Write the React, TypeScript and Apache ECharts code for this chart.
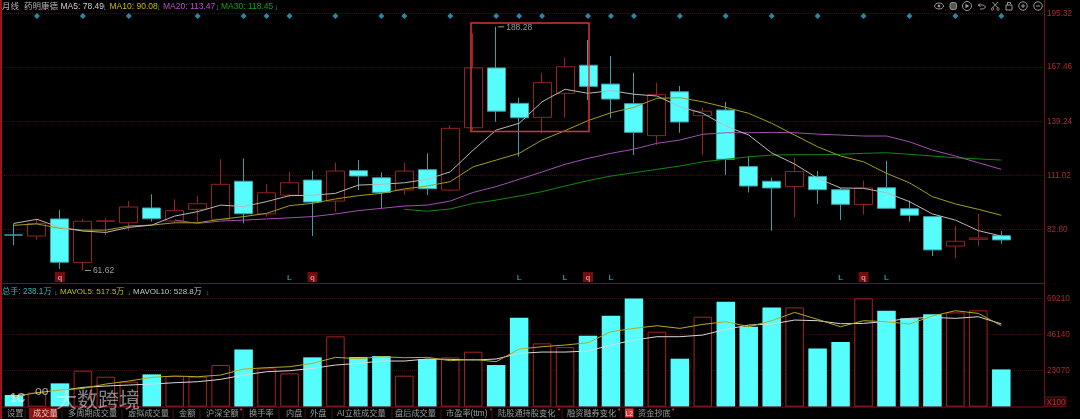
import React, { useEffect, useRef } from "react";
import * as echarts from "echarts";

// [open, close, low, high]
const candles: number[][] = [
  [80.1, 80.0, 74.7, 86.1], [79.5, 86.1, 77.5, 88.2], [88.4, 65.9, 62.4, 93.0], [65.7, 87.2, 61.62, 88.5],
  [87.2, 87.4, 80.1, 89.0], [86.4, 94.6, 82.3, 97.7], [94.1, 88.5, 87.0, 101.2], [87.3, 92.7, 86.1, 98.6],
  [93.4, 96.3, 86.4, 100.3], [88.2, 106.4, 87.8, 119.4], [108.0, 91.1, 86.1, 119.9], [91.0, 102.0, 89.6, 106.6],
  [100.8, 107.2, 99.6, 112.8], [108.6, 97.2, 79.5, 113.5], [97.7, 113.3, 92.2, 117.6], [113.5, 110.7, 103.4, 119.0],
  [109.8, 102.2, 93.9, 112.6], [103.4, 113.3, 100.8, 117.6], [114.0, 104.1, 100.8, 122.5], [103.4, 135.5, 103.0, 137.2],
  [135.8, 166.9, 134.6, 184.9], [166.9, 144.4, 138.9, 188.28], [148.5, 141.0, 120.8, 151.4], [141.2, 159.2, 132.9, 164.4],
  [153.7, 167.5, 141.0, 172.4], [168.3, 157.3, 150.2, 181.4], [158.5, 150.7, 140.7, 173.1], [148.3, 133.4, 121.6, 164.4],
  [131.7, 153.0, 126.8, 159.2], [154.5, 138.8, 133.2, 157.5], [142.1, 144.4, 121.6, 146.4], [145.0, 119.4, 111.2, 149.2],
  [115.6, 105.5, 102.2, 120.8], [108.0, 104.5, 82.3, 109.8], [105.2, 113.0, 89.3, 120.4], [110.4, 103.6, 96.2, 113.3],
  [103.6, 96.0, 87.8, 104.5], [95.8, 104.5, 90.6, 108.3], [104.6, 93.9, 93.6, 118.7], [93.7, 90.3, 87.0, 97.9],
  [89.6, 72.3, 69.1, 89.9], [74.3, 76.8, 67.9, 84.7], [77.8, 78.5, 74.3, 91.0], [79.7, 77.5, 75.5, 82.1],
];
const ma5 = [86.1, 88.2, 84.0, 82.1, 81.4, 84.0, 85.2, 89.9, 92.2, 95.6, 94.8, 97.4, 100.5, 100.7, 101.7, 106.0, 106.4, 107.2, 109.0, 112.9, 124.2, 134.6, 138.1, 149.3, 155.8, 153.7, 155.1, 153.2, 152.3, 146.7, 143.3, 136.7, 132.0, 122.7, 116.9, 109.5, 104.5, 104.3, 102.0, 97.4, 91.0, 87.8, 82.3, 79.5];
const ma10 = [85.1, 85.8, 83.5, 82.6, 82.6, 84.7, 85.2, 86.4, 86.4, 88.2, 89.6, 91.3, 95.3, 96.5, 98.8, 100.5, 101.7, 104.0, 105.5, 107.8, 115.5, 119.0, 122.5, 129.4, 134.3, 139.5, 143.6, 146.4, 151.1, 151.4, 149.3, 146.4, 143.3, 138.1, 132.0, 125.9, 121.1, 118.1, 112.1, 107.2, 100.0, 96.2, 93.4, 90.3];
const ma20Start = 7;
const ma20 = [87.8, 86.1, 87.3, 87.8, 88.4, 89.0, 89.6, 91.0, 92.7, 93.9, 95.1, 95.6, 97.7, 102.2, 105.2, 109.0, 112.8, 116.8, 119.9, 122.5, 124.7, 127.7, 129.4, 132.4, 133.2, 133.2, 133.4, 133.2, 132.5, 132.0, 131.5, 131.5, 128.5, 124.2, 121.1, 117.6, 114.2];
const ma30Start = 17;
const ma30 = [93.4, 92.4, 93.6, 96.5, 98.2, 100.3, 102.6, 105.5, 108.3, 110.7, 112.4, 114.2, 115.9, 118.1, 119.4, 120.7, 121.6, 121.8, 121.8, 122.0, 122.5, 122.8, 122.0, 121.1, 120.2, 119.6, 119.0];

const volumes = [7470, 9000, 14900, 23000, 19150, 16000, 20640, 19580, 19150, 26600, 36600, 24470, 21280, 31500, 44900, 31700, 32350, 19800, 30430, 31500, 35100, 26600, 56800, 40430, 38100, 45300, 58100, 69160, 47900, 30640, 57460, 67000, 51070, 63400, 63400, 37240, 41300, 69160, 61300, 56400, 58950, 60200, 61500, 23810];
const mavol5 = [6400, 8940, 10640, 11700, 14470, 16390, 18730, 19580, 19150, 20220, 24050, 24900, 25540, 27660, 31490, 30640, 31920, 31280, 31490, 29370, 30220, 28730, 36810, 38300, 39370, 40860, 47880, 50000, 51710, 50000, 52560, 54260, 51070, 54900, 60220, 55750, 51070, 54900, 54260, 52770, 57880, 61290, 59580, 51750];
const mavol10Start = 2;
const mavol10 = [10200, 12340, 13190, 13830, 14470, 15320, 15960, 17450, 20220, 22340, 22980, 24470, 26600, 27660, 29160, 29160, 30430, 30220, 29800, 30430, 34040, 34890, 34890, 35530, 39360, 42550, 44690, 44690, 45750, 49360, 52130, 52770, 55320, 54900, 52980, 53200, 54470, 56400, 57020, 56400, 57450, 52880];

const priceTicks = [82.8, 111.02, 139.24, 167.46, 195.32];
const volumeTicks = [23070, 46140, 69210];
const signalDiamonds = [1, 3, 5, 8, 10, 11, 12, 14, 16, 17, 19, 21, 22, 23, 25, 26, 27, 29, 31, 33, 35, 37, 39, 41, 43];
const signalL = [12, 22, 24, 26, 36, 38];
const signalQ = [2, 13, 25, 37];
const tabLabels = ["设置", "成交量", "多周期成交量", "虚拟成交量", "金额", "沪深全额", "换手率", "内盘", "外盘", "AI立桩成交量", "盘后成交量", "市盈率(ttm)", "陆股通持股变化", "融资融券变化", "资金抄底"];
const tabStarts = [7, 33, 68, 128, 179, 206, 249, 286, 310, 337, 395, 446, 498, 567, 638];
const tabDots = [241, 491, 559, 619, 673];
const tabSeps = [25, 62, 122, 173, 200, 243, 279, 305, 332, 392, 441, 492, 562, 621];

const LAT = '"Liberation Sans","Noto Sans CJK SC",sans-serif';
const UP = "#962222";
const CYAN = "#55FDFD";
const WICK = "#3f9fa6";
const DOT = "#420b0b";
const Z = 100;

const xMin = -0.5226;
const xMax = 44.86;

const txt = (text: string, x: number, y: number, fill: string, size = 8.5, extra: any = {}) => ({
  type: "text", z: Z, silent: true,
  style: { text, x, y, fill, font: `${size}px ${LAT}`, verticalAlign: "middle", ...extra },
});
const line = (x1: number, y1: number, x2: number, y2: number, stroke: string, lineWidth = 1) => ({
  type: "line", z: Z, silent: true, shape: { x1, y1, x2, y2 }, style: { stroke, lineWidth },
});
const circ = (cx: number, cy: number, r: number, stroke = "#9a9a9a") => ({
  type: "circle", z: Z, silent: true, shape: { cx, cy, r }, style: { stroke, fill: "none", lineWidth: 1 },
});

function chrome(): any[] {
  const arrow = "#2aa6a6";
  const icon = "#9a9a9a";
  return [
    line(1, 0, 1, 419, "#9a1616", 2),
    line(1044.5, 0, 1044.5, 407, "#6e1414"),
    line(2, 283.5, 1044, 283.5, "#6e1414"),
    line(2, 407, 1044, 407, "#8a1616"),
    { type: "rect", z: Z, silent: true, shape: { x: 471, y: 23, width: 118, height: 108.5 }, style: { stroke: "#d83434", fill: "none", lineWidth: 1.5 } },

    txt("月线", 2, 6, "#b0b0b0", 8.5),
    txt("药明康德", 24, 6, "#b0b0b0", 8.5),
    txt("MA5: 78.49", 60.5, 6, "#cfcfcf"),
    txt("↓", 102.5, 6.5, arrow),
    txt("MA10: 90.08", 109.5, 6, "#c6bc12"),
    txt("↓", 156.5, 6.5, arrow),
    txt("MA20: 113.47", 163, 6, "#b653c6"),
    txt("↓", 215, 6.5, arrow),
    txt("MA30: 118.45", 221, 6, "#0aa50a"),
    txt("↓", 274, 6.5, arrow),

    txt("总手: 238.1万", 2, 291.5, "#2fb8b8", 8.2),
    txt("↓", 54, 292, arrow, 7.5),
    txt("MAVOL5: 517.5万", 60, 291.5, "#c6bc12", 8),
    txt("↓", 127.5, 292, arrow, 7.5),
    txt("MAVOL10: 528.8万", 133, 291.5, "#c4c4c4", 8),
    txt("↓", 206, 292, arrow, 7.5),

    { type: "rect", z: Z, silent: true, shape: { x: 1045, y: 397, width: 21, height: 9.5 }, style: { fill: "#260808", stroke: "#5a1212", lineWidth: 1 } },
    txt("X100", 1046.5, 402, "#a83030", 8.2),

    // toolbar
    { type: "ellipse", z: Z, silent: true, shape: { cx: 939, cy: 6, rx: 4.5, ry: 3 }, style: { stroke: icon, fill: "none", lineWidth: 1 } },
    { type: "circle", z: Z, silent: true, shape: { cx: 939, cy: 6, r: 1.3 }, style: { fill: icon } },
    { type: "rect", z: Z, silent: true, shape: { x: 950, y: 2.5, width: 6.5, height: 7, r: 2 }, style: { stroke: icon, fill: "#555", lineWidth: 1 } },
    circ(967, 6, 4.5),
    { type: "polygon", z: Z, silent: true, shape: { points: [[965.5, 3.8], [965.5, 8.2], [969.3, 6]] }, style: { fill: icon } },
    { type: "polyline", z: Z, silent: true, shape: { points: [[980, 3.5], [978.5, 5], [980, 6.5], [978.5, 5], [983.5, 5], [985.5, 7], [983.5, 9], [980, 9]] }, style: { stroke: icon, fill: "none", lineWidth: 1 } },
    line(992.5, 2, 998, 8, icon), line(998, 2, 992.5, 8, icon), circ(992.5, 9, 1.2), circ(998, 9, 1.2),
    { type: "rect", z: Z, silent: true, shape: { x: 1006, y: 5, width: 6, height: 5 }, style: { stroke: icon, fill: "none", lineWidth: 1 } },
    { type: "polyline", z: Z, silent: true, shape: { points: [[1007.5, 5], [1007.5, 2.5], [1010.5, 2.5], [1010.5, 4]] }, style: { stroke: icon, fill: "none", lineWidth: 1 } },
    circ(1023, 6, 4.2), line(1021, 6, 1025, 6, icon), line(1023, 4, 1023, 8, icon),
    circ(1038, 6, 4.2), line(1036, 6, 1040, 6, icon),

    // watermark
    txt("1C", 10, 398, "rgba(255,255,255,0.62)", 22, { fontWeight: "bold" }),
    txt("oo", 35, 391, "rgba(255,255,255,0.6)", 12),
    txt("大数跨境", 56, 399, "rgba(255,255,255,0.5)", 21),

    // tabs
    { type: "rect", z: Z - 1, silent: true, shape: { x: 29, y: 408, width: 28, height: 11 }, style: { fill: "#8e1212" } },
    { type: "rect", z: Z - 1, silent: true, shape: { x: 625, y: 408.5, width: 8.5, height: 9 }, style: { fill: "#e23a3a" } },
    txt("L2", 625.7, 413.5, "#ffd8d8", 6.5),
    ...tabLabels.map((t, i) => txt(t, tabStarts[i], 413.5, i === 1 ? "#f0c8c8" : "#9c9c9c", 8.2)),
    ...tabDots.map((x) => ({ type: "circle", z: Z, silent: true, shape: { cx: x, cy: 409.5, r: 1 }, style: { fill: "#e03030" } })),
    ...tabSeps.map((x) => line(x, 409, x, 419, "#4a1010")),
  ];
}

function buildOption(): any {
  const maLine = (name: string, vals: number[], start: number, color: string, xi = 0, yi = 0) => ({
    name, type: "line", xAxisIndex: xi, yAxisIndex: yi, showSymbol: false, silent: true, z: 5,
    lineStyle: { color, width: 1 }, itemStyle: { color },
    data: vals.map((v, i) => [i + start, v]),
  });
  const signal = (name: string, idx: number[], text: string, color: string, bg: string, size: number) => ({
    name, type: "scatter", xAxisIndex: 0, yAxisIndex: 0, symbol: "rect", symbolSize: size, silent: true, z: 6,
    itemStyle: { color: bg },
    label: { show: true, formatter: text, position: "inside", color, fontSize: 8, fontFamily: '"Liberation Sans"', fontWeight: "bold" },
    data: idx.map((i) => [i, 58.2]),
  });
  const extremeLabel = (coord: number[], text: string) => ({
    coord, symbol: "rect", symbolSize: [6, 1], symbolOffset: [5, 0],
    itemStyle: { color: "#999" },
    label: { show: true, position: "right", distance: 2, formatter: text, color: "#9a9a9a", fontSize: 8.5, fontFamily: '"Liberation Sans"' },
  });
  const split = { show: true, lineStyle: { color: DOT, type: "dotted", width: 1 } };
  const axisLab = { color: "#a82a2a", fontSize: 8.2, fontFamily: '"Liberation Sans"', margin: 3 };
  return {
    animation: false,
    backgroundColor: "#000",
    tooltip: { show: false },
    grid: [
      { left: 2, width: 1042, top: 13.24, height: 269.76 },
      { left: 2, width: 1042, top: 284, height: 122.7 },
    ],
    xAxis: [0, 1].map((gridIndex) => ({
      type: "value", gridIndex, min: xMin, max: xMax, show: false, splitLine: { show: false },
    })),
    yAxis: [
      {
        type: "value", gridIndex: 0, position: "right", min: 55.1, max: 195.32, scale: true,
        axisLine: { show: false },
        axisTick: { show: false, customValues: priceTicks },
        splitLine: split,
        axisLabel: { ...axisLab, customValues: priceTicks, formatter: (v: number) => v.toFixed(2) },
      },
      {
        type: "value", gridIndex: 1, position: "right", min: 0, max: 78343,
        axisLine: { show: false },
        axisTick: { show: false, customValues: volumeTicks },
        splitLine: split,
        axisLabel: { ...axisLab, customValues: volumeTicks, formatter: (v: number) => String(v) },
      },
    ],
    graphic: { elements: chrome() },
    series: [
      {
        name: "K", type: "candlestick", xAxisIndex: 0, yAxisIndex: 0, barWidth: 18.5, silent: true,
        itemStyle: { color: "#000", color0: CYAN, borderColor: UP, borderColor0: WICK, borderWidth: 1 },
        encode: { x: 0, y: [1, 2, 3, 4] },
        data: candles.map((c, i) => [i, ...c]),
        markPoint: {
          silent: true, animation: false,
          data: [extremeLabel([21, 188.28], "188.28"), extremeLabel([3, 61.62], "61.62")],
        },
      },
      maLine("MA30", ma30, ma30Start, "#0e8a0e"),
      maLine("MA20", ma20, ma20Start, "#a24fb2"),
      maLine("MA10", ma10, 0, "#a49c1c"),
      maLine("MA5", ma5, 0, "#b8b8b8"),
      {
        name: "signal", type: "scatter", xAxisIndex: 0, yAxisIndex: 0, symbol: "diamond", symbolSize: 6, silent: true,
        itemStyle: { color: "#36a8d2" },
        data: signalDiamonds.map((i) => [i, 193.9]),
      },
      signal("L", signalL, "L", "#1fb6c4", "rgba(0,0,0,0)", 8),
      signal("q", signalQ, "q", "#f2a0a0", "#8e1212", 10),
      {
        name: "VOL", type: "bar", xAxisIndex: 1, yAxisIndex: 1, barWidth: 18.5, silent: true,
        data: volumes.map((v, i) => {
          const up = candles[i][1] >= candles[i][0];
          return {
            value: [i, v],
            itemStyle: up ? { color: "#000", borderColor: "#a82222", borderWidth: 1 } : { color: CYAN },
          };
        }),
      },
      maLine("MAVOL10", mavol10, mavol10Start, "#d8d8d8", 1, 1),
      maLine("MAVOL5", mavol5, 0, "#b5ad1e", 1, 1),
    ],
  };
}

export default function App() {
  const ref = useRef<HTMLDivElement>(null);
  useEffect(() => {
    document.body.style.margin = "0";
    document.body.style.background = "#000";
    const chart = echarts.init(ref.current!, undefined, { renderer: "svg" });
    chart.setOption(buildOption());
    return () => chart.dispose();
  }, []);
  return <div ref={ref} style={{ width: 1080, height: 419, position: "absolute", left: 0, top: 0, overflow: "hidden", filter: "blur(0.35px)" }} />;
}
